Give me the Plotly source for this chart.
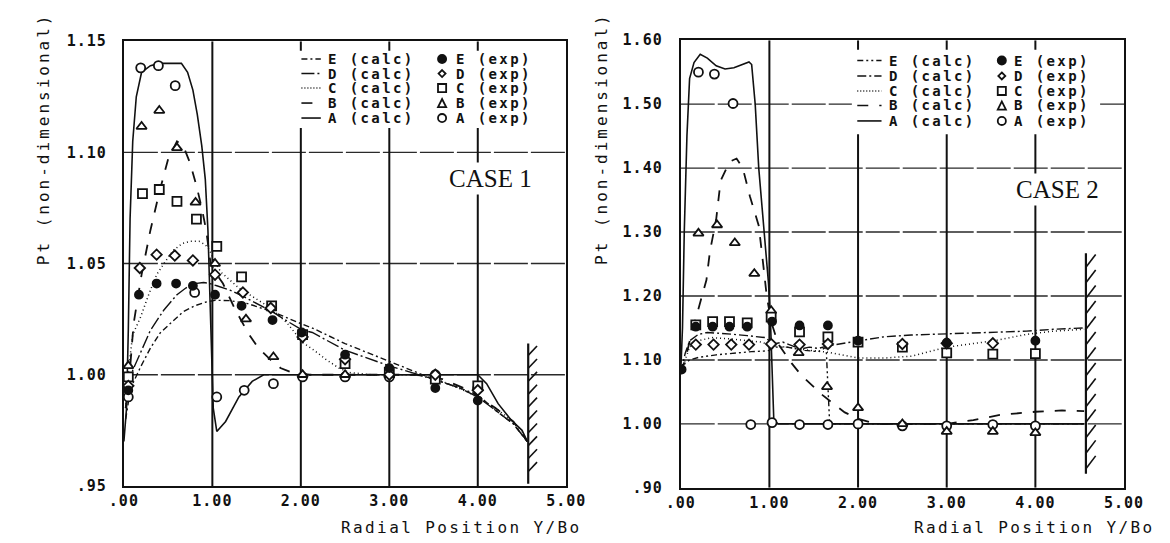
import plotly.graph_objects as go

W, H = 1170, 543

# ======================= DATA : CASE 1 =======================
c1_A_calc_x = [0.00, 0.03, 0.05, 0.07, 0.10, 0.14, 0.20, 0.30, 0.40, 0.55, 0.65, 0.72, 0.78, 0.83, 0.88, 0.92,
               0.95, 0.98, 1.01, 1.05, 1.15, 1.30, 1.45, 1.58, 1.75, 2.00, 2.50, 3.00, 3.50, 4.00, 4.10, 4.23,
               4.37, 4.50, 4.56]
c1_A_calc_y = [0.970, 0.985, 1.020, 1.070, 1.105, 1.125, 1.136, 1.139, 1.140, 1.140, 1.140, 1.136, 1.128, 1.117,
               1.103, 1.088, 1.065, 1.025, 0.985, 0.9745, 0.979, 0.990, 0.997, 1.000, 1.000, 1.000, 1.000, 1.000,
               1.000, 1.000, 0.996, 0.987, 0.980, 0.975, 0.970]
c1_B_calc_x = [0.02, 0.06, 0.11, 0.20, 0.30, 0.40, 0.50, 0.60, 0.67, 0.75, 0.82, 0.88, 0.93, 0.98, 1.05, 1.12,
               1.25, 1.40, 1.52, 1.65, 1.77, 1.90, 2.10, 2.50, 3.00, 3.30, 3.60, 3.90, 4.20, 4.40, 4.56]
c1_B_calc_y = [0.985, 0.998, 1.023, 1.045, 1.065, 1.082, 1.097, 1.105, 1.103, 1.095, 1.085, 1.075, 1.065, 1.050,
               1.045, 1.041, 1.030, 1.019, 1.012, 1.007, 1.003, 1.001, 1.000, 1.000, 1.000, 1.000, 0.998, 0.993,
               0.985, 0.979, 0.970]
c1_C_calc_x = [0.02, 0.06, 0.10, 0.19, 0.28, 0.37, 0.47, 0.56, 0.66, 0.75, 0.85, 0.92, 0.97, 1.02, 1.10, 1.30,
               1.50, 1.66, 1.85, 2.02, 2.15, 2.28, 2.43, 2.55, 2.80, 3.00, 3.30, 3.60, 3.90, 4.20, 4.40, 4.56]
c1_C_calc_y = [0.985, 1.005, 1.018, 1.026, 1.036, 1.045, 1.051, 1.056, 1.059, 1.060, 1.060, 1.0585, 1.056, 1.051,
               1.046, 1.039, 1.034, 1.030, 1.023, 1.0145, 1.011, 1.007, 1.003, 1.001, 1.000, 1.000, 1.000, 0.997,
               0.992, 0.985, 0.979, 0.970]
c1_D_calc_x = [0.02, 0.06, 0.10, 0.19, 0.30, 0.45, 0.60, 0.70, 0.80, 0.90, 0.97, 1.05, 1.20, 1.36, 1.50, 1.69,
               1.85, 2.02, 2.13, 2.50, 3.00, 3.26, 3.50, 3.80, 4.00, 4.20, 4.40, 4.56]
c1_D_calc_y = [0.985, 0.995, 1.002, 1.010, 1.020, 1.029, 1.036, 1.039, 1.041, 1.0415, 1.041, 1.040, 1.038, 1.035,
               1.032, 1.028, 1.024, 1.020, 1.019, 1.011, 1.004, 1.001, 0.998, 0.994, 0.990, 0.984, 0.978, 0.970]
c1_E_calc_x = [0.02, 0.06, 0.10, 0.19, 0.30, 0.41, 0.55, 0.67, 0.80, 0.92, 1.03, 1.20, 1.40, 1.70, 2.00, 2.13,
               2.50, 3.00, 3.26, 3.50, 3.80, 4.00, 4.20, 4.40, 4.56]
c1_E_calc_y = [0.980, 0.990, 0.996, 1.0036, 1.012, 1.0188, 1.024, 1.0283, 1.031, 1.0326, 1.0335, 1.0333, 1.032,
               1.028, 1.023, 1.021, 1.014, 1.006, 1.002, 0.998, 0.994, 0.991, 0.984, 0.978, 0.970]

c1_A_exp_x = [0.05, 0.19, 0.39, 0.58, 0.80, 1.05, 1.36, 1.69, 2.02, 2.50, 3.00, 3.52, 4.00]
c1_A_exp_y = [0.990, 1.138, 1.139, 1.130, 1.037, 0.990, 0.993, 0.996, 0.999, 0.999, 0.999, 1.000, 0.994]
c1_B_exp_x = [0.05, 0.20, 0.40, 0.60, 0.81, 1.03, 1.38, 1.69, 2.02, 2.50, 3.00, 3.52, 4.00]
c1_B_exp_y = [1.004, 1.1116, 1.1188, 1.102, 1.0775, 1.050, 1.025, 1.008, 1.000, 1.000, 1.000, 1.000, 0.994]
c1_C_exp_x = [0.05, 0.21, 0.40, 0.60, 0.82, 1.05, 1.33, 1.67, 2.02, 2.50, 3.00, 3.52, 4.00]
c1_C_exp_y = [0.999, 1.0814, 1.0833, 1.078, 1.070, 1.0577, 1.044, 1.031, 1.018, 1.005, 1.001, 0.998, 0.995]
c1_D_exp_x = [0.05, 0.18, 0.37, 0.575, 0.78, 1.03, 1.345, 1.66, 2.02, 2.50, 3.00, 3.52, 4.00]
c1_D_exp_y = [0.995, 1.048, 1.054, 1.0536, 1.0514, 1.045, 1.037, 1.030, 1.017, 1.007, 1.000, 1.000, 0.993]
c1_E_exp_x = [0.05, 0.17, 0.37, 0.59, 0.78, 1.03, 1.33, 1.68, 2.01, 2.50, 3.00, 3.52, 4.00]
c1_E_exp_y = [0.993, 1.036, 1.041, 1.041, 1.040, 1.036, 1.031, 1.0246, 1.019, 1.009, 1.003, 0.994, 0.9884]

# ======================= DATA : CASE 2 =======================
c2_A_calc_x = [0.00, 0.02, 0.04, 0.07, 0.10, 0.15, 0.22, 0.30, 0.40, 0.50, 0.60, 0.70, 0.77, 0.80, 0.84, 0.88,
               0.92, 0.96, 0.99, 1.01, 1.03, 1.05, 1.10, 1.50, 2.00, 3.00, 4.00, 4.55]
c2_A_calc_y = [1.080, 1.150, 1.300, 1.450, 1.540, 1.565, 1.578, 1.572, 1.560, 1.555, 1.557, 1.562, 1.566, 1.562,
               1.500, 1.400, 1.330, 1.260, 1.220, 1.170, 1.080, 1.005, 1.000, 1.000, 1.000, 1.000, 1.000, 1.000]
c2_B_calc_x = [0.00, 0.05, 0.12, 0.20, 0.29, 0.33, 0.40, 0.45, 0.55, 0.63, 0.70, 0.78, 0.88, 0.93, 0.97, 1.02,
               1.10, 1.25, 1.36, 1.50, 1.60, 1.71, 1.85, 2.00, 2.20, 2.50, 3.00, 3.30, 3.60, 4.00, 4.30, 4.55]
c2_B_calc_y = [1.080, 1.100, 1.140, 1.180, 1.225, 1.270, 1.320, 1.380, 1.410, 1.415, 1.400, 1.356, 1.310, 1.250,
               1.200, 1.160, 1.125, 1.095, 1.076, 1.058, 1.045, 1.033, 1.018, 1.008, 1.000, 1.000, 1.000, 1.006,
               1.014, 1.019, 1.021, 1.020]
c2_C_calc_x = [0.00, 0.05, 0.10, 0.20, 0.35, 0.55, 0.75, 0.90, 0.97, 1.05, 1.20, 1.40, 1.66, 1.90, 2.00, 2.30,
               2.61, 3.00, 3.53, 3.90, 4.20, 4.55]
c2_C_calc_y = [1.080, 1.100, 1.120, 1.130, 1.135, 1.133, 1.130, 1.128, 1.125, 1.122, 1.120, 1.116, 1.112, 1.106,
               1.103, 1.103, 1.106, 1.120, 1.130, 1.140, 1.145, 1.148]
c2_D_calc_x = [0.00, 0.05, 0.10, 0.20, 0.30, 0.45, 0.60, 0.75, 0.85, 0.95, 1.00, 1.05, 1.15, 1.25, 1.35, 1.45,
               1.55, 1.66, 1.80, 2.00, 2.28, 2.60, 3.00, 3.50, 3.90, 4.20, 4.55]
c2_D_calc_y = [1.080, 1.110, 1.130, 1.140, 1.143, 1.142, 1.140, 1.138, 1.137, 1.135, 1.130, 1.125, 1.128, 1.122,
               1.117, 1.120, 1.118, 1.122, 1.125, 1.130, 1.136, 1.139, 1.141, 1.143, 1.145, 1.148, 1.150]
c2_E_calc_x = [0.00, 0.05, 0.10, 0.20, 0.40, 0.60, 0.80, 0.95, 1.00, 1.05, 1.20, 1.40, 1.55, 1.64, 1.66, 1.68,
               2.00, 2.50, 3.00, 4.00, 4.55]
c2_E_calc_y = [1.080, 1.095, 1.100, 1.104, 1.108, 1.111, 1.113, 1.114, 1.115, 1.120, 1.120, 1.115, 1.113, 1.120,
               1.060, 1.000, 1.000, 1.000, 1.000, 1.000, 1.000]

c2_A_exp_x = [0.20, 0.38, 0.59, 0.79, 1.03, 1.34, 1.66, 2.00, 2.50, 3.00, 3.52, 4.00]
c2_A_exp_y = [1.550, 1.547, 1.501, 0.999, 1.002, 0.999, 0.999, 1.000, 0.997, 0.997, 0.999, 0.997]
c2_B_exp_x = [0.20, 0.41, 0.61, 0.83, 1.02, 1.33, 1.65, 2.00, 2.50, 3.00, 3.52, 4.00]
c2_B_exp_y = [1.298, 1.311, 1.283, 1.235, 1.177, 1.111, 1.058, 1.025, 1.000, 0.988, 0.988, 0.986]
c2_C_exp_x = [0.17, 0.36, 0.55, 0.75, 1.02, 1.34, 1.66, 2.00, 2.50, 3.00, 3.52, 4.00]
c2_C_exp_y = [1.155, 1.160, 1.160, 1.158, 1.167, 1.144, 1.136, 1.128, 1.120, 1.111, 1.109, 1.110]
c2_D_exp_x = [0.17, 0.37, 0.57, 0.77, 1.02, 1.34, 1.66, 2.50, 3.00, 3.52]
c2_D_exp_y = [1.124, 1.124, 1.124, 1.124, 1.125, 1.124, 1.125, 1.125, 1.126, 1.126]
c2_E_exp_x = [0.01, 0.17, 0.36, 0.55, 0.75, 1.03, 1.34, 1.66, 2.00, 3.00, 4.00]
c2_E_exp_y = [1.085, 1.152, 1.152, 1.152, 1.152, 1.160, 1.154, 1.154, 1.130, 1.127, 1.130]

# ======================= AXES / LABELS =======================
series = ["E", "D", "C", "B", "A"]
x_ticks = [0, 1, 2, 3, 4, 5]
x_ticktext = [".00", "1.00", "2.00", "3.00", "4.00", "5.00"]
c1_y_ticks = [0.95, 1.00, 1.05, 1.10, 1.15]
c1_y_ticktext = [".95", "1.00", "1.05", "1.10", "1.15"]
c2_y_ticks = [0.90, 1.00, 1.10, 1.20, 1.30, 1.40, 1.50, 1.60]
c2_y_ticktext = [".90", "1.00", "1.10", "1.20", "1.30", "1.40", "1.50", "1.60"]
x_title = "Radial Position Y/Bo"
y_title = "Pt (non-dimensional)"
case_labels = ["CASE 1", "CASE 2"]

case1 = {
    "calc": {"A": (c1_A_calc_x, c1_A_calc_y), "B": (c1_B_calc_x, c1_B_calc_y), "C": (c1_C_calc_x, c1_C_calc_y),
             "D": (c1_D_calc_x, c1_D_calc_y), "E": (c1_E_calc_x, c1_E_calc_y)},
    "exp": {"A": (c1_A_exp_x, c1_A_exp_y), "B": (c1_B_exp_x, c1_B_exp_y), "C": (c1_C_exp_x, c1_C_exp_y),
            "D": (c1_D_exp_x, c1_D_exp_y), "E": (c1_E_exp_x, c1_E_exp_y)},
}
case2 = {
    "calc": {"A": (c2_A_calc_x, c2_A_calc_y), "B": (c2_B_calc_x, c2_B_calc_y), "C": (c2_C_calc_x, c2_C_calc_y),
             "D": (c2_D_calc_x, c2_D_calc_y), "E": (c2_E_calc_x, c2_E_calc_y)},
    "exp": {"A": (c2_A_exp_x, c2_A_exp_y), "B": (c2_B_exp_x, c2_B_exp_y), "C": (c2_C_exp_x, c2_C_exp_y),
            "D": (c2_D_exp_x, c2_D_exp_y), "E": (c2_E_exp_x, c2_E_exp_y)},
}

# ======================= STYLES =======================
INK = "#111111"
MONO = "DejaVu Sans Mono"
dash_c1 = {"E": "6px,3px,2px,3px", "D": "13px,3px,2px,3px", "C": "1px,3px", "B": "11px,11px", "A": "solid"}
dash_c2 = {"E": "6px,3px,2px,3px,2px,3px", "D": "9px,3px,2px,3px", "C": "1px,3px", "B": "11px,11px", "A": "solid"}
width_calc = {"E": 1.4, "D": 1.4, "C": 1.5, "B": 1.8, "A": 1.6}
exp_symbol = {"E": "circle", "D": "diamond", "C": "square", "B": "triangle-up", "A": "circle"}
exp_fill = {"E": INK, "D": "white", "C": "white", "B": "white", "A": "white"}
exp_size = {"E": 8, "D": 8, "C": 9, "B": 9, "A": 9}


def px(x):
    return x / W


def py(y):
    return 1 - y / H


def spaced(text, ls):
    return '<span style="letter-spacing:%spx">%s</span>' % (ls, text)


fig = go.Figure()

panels = [
    dict(data=case1, dash=dash_c1, xa="x", ya="y", xdom=(104, 560), ydom=(25, 485),
         yr=(0.95, 1.15), yt=c1_y_ticks, ytt=c1_y_ticktext, legend_bottom=1.111, gap=None,
         wall_x=4.57, wall=(0.951, 1.014), hatch=(0.9565, 1.0087, 10), hatch_d=(0.10, 0.0042),
         leg_rows=[43.5, 58.5, 73.5, 89, 104.5], leg_line=(287, 307), leg_txt=312, leg_mk=432, leg_txt2=444,
         case_xy=(482, 167), ytitle_x=21, xtitle_r=577),
    dict(data=case2, dash=dash_c2, xa="x2", ya="y2", xdom=(678, 1135), ydom=(24, 487),
         yr=(0.90, 1.60), yt=c2_y_ticks, ytt=c2_y_ticktext, legend_bottom=1.453, gap=(1.93, 4.73),
         wall_x=4.57, wall=(0.922, 1.267), hatch=(0.930, 1.245, 14), hatch_d=(0.11, 0.020),
         leg_rows=[45, 61, 76.5, 91.5, 107.5], leg_line=(860, 885), leg_txt=891, leg_mk=1009, leg_txt2=1019,
         case_xy=(1066, 178), ytitle_x=597, xtitle_r=1168),
]

shapes = []
annotations = []

for i, p in enumerate(panels):
    # ---- traces
    for s in ["A", "B", "C", "D", "E"]:
        cx, cy = p["data"]["calc"][s]
        fig.add_trace(go.Scatter(x=cx, y=cy, mode="lines", xaxis=p["xa"], yaxis=p["ya"], showlegend=False,
                                 line=dict(color=INK, width=width_calc[s], dash=p["dash"][s]),
                                 name=s + " (calc)"))
    for s in ["A", "B", "C", "D", "E"]:
        ex, ey = p["data"]["exp"][s]
        fig.add_trace(go.Scatter(x=ex, y=ey, mode="markers", xaxis=p["xa"], yaxis=p["ya"], showlegend=False,
                                 marker=dict(symbol=exp_symbol[s], size=exp_size[s], color=exp_fill[s],
                                             line=dict(color=INK, width=1.8)),
                                 name=s + " (exp)"))

    xr = p["xa"]
    yr_ = p["ya"]
    y0, y1 = p["yr"]
    ytick_len = (y1 - y0) * 10 / (p["ydom"][1] - p["ydom"][0])
    # ---- horizontal grid
    for yv in p["yt"][1:-1]:
        if p["gap"] is not None and abs(yv - 1.50) < 1e-9:
            segs = [(0, p["gap"][0]), (p["gap"][1], 5)]
        else:
            segs = [(0, 5)]
        for a, b in segs:
            shapes.append(dict(type="line", xref=xr, yref=yr_, x0=a, x1=b, y0=yv, y1=yv, layer="below",
                               line=dict(color="#2a2a2a", width=1.4, dash="34px,3px")))
    # ---- vertical grid
    for xv in x_ticks[1:-1]:
        top = y1 if xv == 1 else p["legend_bottom"]
        shapes.append(dict(type="line", xref=xr, yref=yr_, x0=xv, x1=xv, y0=y0, y1=top, layer="below",
                           line=dict(color=INK, width=2)))
        if xv != 1:
            shapes.append(dict(type="line", xref=xr, yref=yr_, x0=xv, x1=xv, y0=y1, y1=y1 - ytick_len,
                               layer="below", line=dict(color=INK, width=2)))
    # ---- hatched wall
    wx = p["wall_x"]
    shapes.append(dict(type="line", xref=xr, yref=yr_, x0=wx, x1=wx, y0=p["wall"][0], y1=p["wall"][1],
                       line=dict(color=INK, width=2.2)))
    hs, he, hn = p["hatch"]
    for k in range(hn):
        yk = hs + (he - hs) * k / (hn - 1)
        shapes.append(dict(type="line", xref=xr, yref=yr_, x0=wx, x1=wx + p["hatch_d"][0], y0=yk,
                           y1=yk + p["hatch_d"][1], line=dict(color=INK, width=1.6)))

    # ---- manual legend
    for r, s in enumerate(series):
        yy = py(p["leg_rows"][r])
        shapes.append(dict(type="line", xref="paper", yref="paper", x0=px(p["leg_line"][0]),
                           x1=px(p["leg_line"][1]), y0=yy, y1=yy,
                           line=dict(color=INK, width=1.6, dash=p["dash"][s] if s != "C" else "1px,2px")))
        annotations.append(dict(xref="paper", yref="paper", x=px(p["leg_txt"]), y=yy, xanchor="left",
                                yanchor="middle", showarrow=False, text=spaced(s + " (calc)", 2.4),
                                font=dict(family=MONO, size=14, color=INK, weight="bold")))
        annotations.append(dict(xref="paper", yref="paper", x=px(p["leg_txt2"]), y=yy, xanchor="left",
                                yanchor="middle", showarrow=False, text=spaced(s + " (exp)", 2.4),
                                font=dict(family=MONO, size=14, color=INK, weight="bold")))
        cxp, r_ = p["leg_mk"], 4.2
        if exp_symbol[s] == "circle":
            shapes.append(dict(type="circle", xref="paper", yref="paper", x0=px(cxp - r_), x1=px(cxp + r_),
                               y0=py(p["leg_rows"][r] + r_), y1=py(p["leg_rows"][r] - r_),
                               fillcolor=exp_fill[s], line=dict(color=INK, width=1.8)))
        elif exp_symbol[s] == "square":
            shapes.append(dict(type="rect", xref="paper", yref="paper", x0=px(cxp - r_), x1=px(cxp + r_),
                               y0=py(p["leg_rows"][r] + r_), y1=py(p["leg_rows"][r] - r_),
                               fillcolor="white", line=dict(color=INK, width=1.8)))
        elif exp_symbol[s] == "triangle-up":
            yc = p["leg_rows"][r]
            path = "M %f %f L %f %f L %f %f Z" % (px(cxp - r_), py(yc + r_), px(cxp + r_), py(yc + r_),
                                                    px(cxp), py(yc - r_))
            shapes.append(dict(type="path", xref="paper", yref="paper", path=path, fillcolor="white",
                               line=dict(color=INK, width=1.8)))
        else:
            yc = p["leg_rows"][r]
            d = 3.6
            path = "M %f %f L %f %f L %f %f L %f %f Z" % (px(cxp), py(yc - d), px(cxp + d), py(yc),
                                                          px(cxp), py(yc + d), px(cxp - d), py(yc))
            shapes.append(dict(type="path", xref="paper", yref="paper", path=path, fillcolor="white",
                               line=dict(color=INK, width=1.8)))

    # ---- case label
    annotations.append(dict(xref="paper", yref="paper", x=px(p["case_xy"][0]), y=py(p["case_xy"][1]),
                            xanchor="center", yanchor="middle", showarrow=False, text=case_labels[i],
                            bgcolor="white", borderpad=2,
                            font=dict(family="Liberation Serif", size=25, color=INK)))
    # ---- axis titles
    annotations.append(dict(xref="paper", yref="paper", x=px(p["ytitle_x"]), y=py(126), xanchor="center",
                            yanchor="middle", showarrow=False, textangle=-90, text=spaced(y_title, 3),
                            font=dict(family=MONO, size=16, color=INK)))
    annotations.append(dict(xref="paper", yref="paper", x=px(p["xtitle_r"]), y=py(528), xanchor="right",
                            yanchor="middle", showarrow=False, text=spaced(x_title, 2.4), borderpad=0,
                            font=dict(family=MONO, size=16, color=INK)))

axis_common = dict(showgrid=False, zeroline=False, showline=True, mirror=True, linecolor=INK, linewidth=2,
                   ticks="", tickfont=dict(family=MONO, size=15, color=INK, weight="bold"))

xticktext_sp = [spaced(t, 1) for t in x_ticktext]

fig.update_layout(
    width=W, height=H, margin=dict(l=0, r=0, t=0, b=0),
    paper_bgcolor="white", plot_bgcolor="white", showlegend=False,
    xaxis=dict(domain=[px(104), px(560)], range=[0, 5], tickvals=x_ticks, ticktext=xticktext_sp,
               anchor="y", ticklabelstandoff=0, **axis_common),
    yaxis=dict(domain=[py(485), py(25)], range=[0.95, 1.15], tickvals=c1_y_ticks,
               ticktext=[spaced(t, 1) for t in c1_y_ticktext], anchor="x", ticklabelstandoff=12,
               **axis_common),
    xaxis2=dict(domain=[px(678), px(1135)], range=[0, 5], tickvals=x_ticks, ticktext=xticktext_sp,
                anchor="y2", ticklabelstandoff=0, **axis_common),
    yaxis2=dict(domain=[py(487), py(24)], range=[0.90, 1.60], tickvals=c2_y_ticks,
                ticktext=[spaced(t, 1) for t in c2_y_ticktext], anchor="x2", ticklabelstandoff=13,
                **axis_common),
    shapes=shapes, annotations=annotations,
)

fig.write_html("out.html")
